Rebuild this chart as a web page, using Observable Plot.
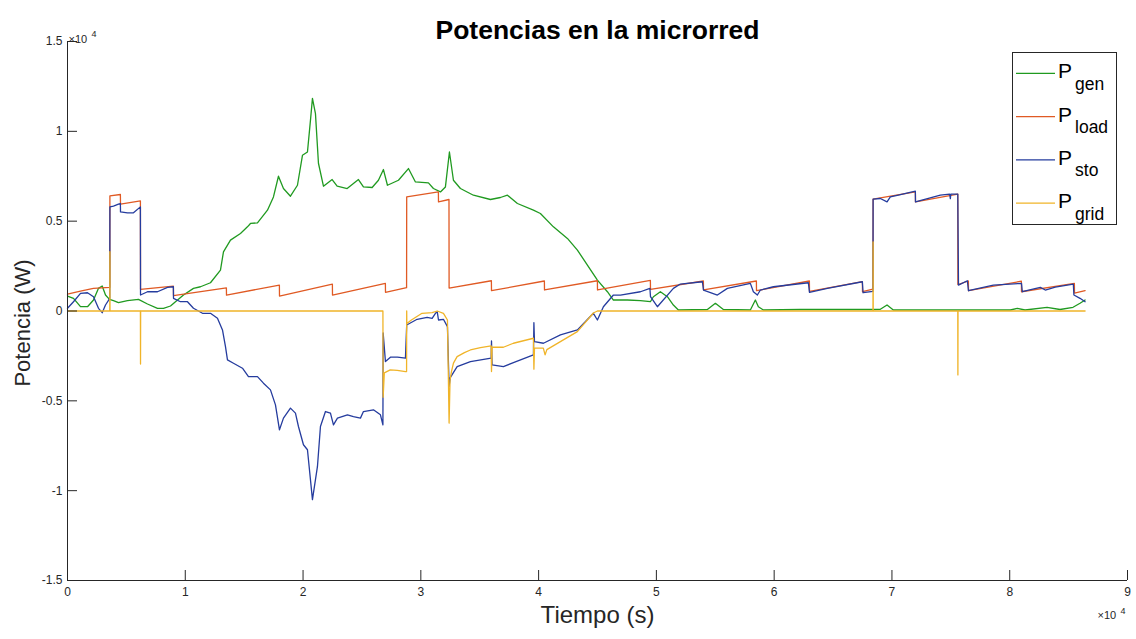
<!DOCTYPE html>
<html><head><meta charset="utf-8">
<script src="https://cdn.jsdelivr.net/npm/d3@7"></script>
<script src="https://cdn.jsdelivr.net/npm/@observablehq/plot@0.6"></script>
<style>
html,body{margin:0;padding:0;background:#fff;}
#wrap{position:relative;width:1136px;height:639px;overflow:hidden;}
#legend{position:absolute;left:0;top:0;pointer-events:none;}
</style></head><body><div id="wrap"></div>
<script>
const seriesNames = ["gen", "load", "sto", "grid"];
const seriesColors = ["#209a20", "#e05a24", "#253c9e", "#f0b429"];
const titleText = "Potencias en la microrred";
const xLabel = "Tiempo (s)";
const yLabel = "Potencia (W)";
const xTicks = [0, 10000, 20000, 30000, 40000, 50000, 60000, 70000, 80000, 90000];
const yTicks = [-15000, -10000, -5000, 0, 5000, 10000, 15000];

// [tiempo (s), potencia (W)]
const genData = [[0,833],[509,706],[1104,239],[1698,239],[2207,611],[2632,1261],[2946,1389],[3226,889],[3565,650],[3905,572],[4329,461],[5093,572],[6027,650],[6791,389],[7640,150],[8149,150],[8744,278],[9168,517],[9847,889],[10696,1261],[11290,1350],[12139,1572],[12988,2278],[13243,3295],[13837,3945],[14686,4317],[15280,4684],[15535,4873],[16129,4906],[16978,5612],[17487,6350],[17912,7500],[18336,6817],[18930,6389],[19524,7000],[19949,8667],[20374,8850],[20628,10612],[20798,11834],[21053,10984],[21307,8223],[21732,6945],[22470,7317],[22895,6945],[23744,6817],[24703,7317],[25127,6906],[25866,6873],[26401,7278],[26825,7873],[27165,7000],[28099,7278],[28948,7928],[29542,7184],[30646,7128],[31070,6817],[31664,6628],[32088,6906],[32428,8851],[32768,7278],[33362,6817],[34465,6445],[35908,6206],[36757,6317],[37352,6445],[38201,5984],[39559,5612],[40153,5428],[41257,4684],[42445,4039],[43294,3389],[44143,2556],[44992,1722],[45841,1072],[46350,611],[47538,611],[48642,583],[49491,517],[49745,794],[50339,1072],[50934,794],[51443,333],[51868,56],[54330,83],[55009,428],[55688,83],[57980,56],[58404,611],[58659,239],[59083,56],[62224,83],[68166,83],[69015,94],[69583,333],[70118,56],[80050,56],[80644,150],[81300,56],[83168,206],[84271,83],[85375,206],[85969,428],[86400,611]];

const loadData = [[0,944],[1100,1111],[2200,1261],[3590,1320],[3600,6406],[4490,6484],[4500,5945],[6190,6128],[6200,1206],[8990,1389],[9000,860],[13490,1290],[13500,880],[17990,1444],[18000,833],[22490,1500],[22500,889],[26990,1539],[27000,1039],[28790,1300],[28800,6350],[31490,6628],[31500,6073],[32390,6206],[32400,1278],[35990,1683],[36000,1130],[40490,1670],[40500,1170],[44990,1683],[45000,1170],[49490,1700],[49500,1200],[53990,1670],[54000,1170],[58490,1670],[58500,1130],[62990,1670],[63000,1090],[67490,1630],[67500,1072],[68390,1220],[68400,6222],[71990,6630],[72000,6073],[75590,6500],[75600,1470],[76490,1670],[76500,1128],[80990,1660],[81000,1072],[85490,1540],[85500,1000],[86400,1128]];

const stoData = [[0,150],[509,517],[1104,983],[1698,1017],[2207,794],[2632,150],[2946,-94],[3226,333],[3590,706],[3600,5795],[3905,5834],[4329,5945],[4490,5984],[4500,5517],[5093,5462],[5603,5462],[6190,5795],[6200,889],[6791,1072],[7640,1072],[8489,1317],[8990,1350],[9000,706],[9593,517],[10187,517],[10696,150],[11460,-128],[12139,-128],[12733,-406],[13158,-1056],[13413,-1983],[13582,-2722],[14092,-2906],[14856,-3184],[15365,-3650],[16129,-3650],[16638,-4017],[17233,-4389],[17657,-5223],[17997,-6612],[18336,-5962],[18930,-5406],[19355,-5684],[19609,-6428],[20034,-7445],[20374,-7723],[20798,-10500],[21223,-8651],[21477,-6428],[21902,-5595],[22326,-5684],[22581,-6334],[22920,-5962],[23769,-5778],[24278,-5873],[24873,-5962],[25127,-5595],[25976,-5500],[26571,-5778],[26780,-6334],[26800,-1220],[26995,-2817],[27419,-2572],[28014,-2572],[28693,-2628],[28800,-778],[29686,-461],[30535,-350],[30960,-406],[31240,-128],[31390,-39],[31500,-500],[31919,-461],[32258,-872],[32400,-4200],[32500,-3706],[33082,-3095],[34211,-2817],[35968,-2628],[36000,-1667],[36050,-3000],[37012,-3095],[37861,-2872],[39559,-2444],[39600,-650],[39650,-1706],[40408,-1795],[41851,-1333],[43294,-1056],[44652,-128],[44992,-500],[45501,239],[46350,889],[46944,889],[48642,1072],[49450,1261],[49500,794],[50085,239],[51443,1261],[52037,1500],[53905,1628],[54000,1167],[55178,889],[56027,1261],[57980,1539],[58235,1072],[58574,889],[58829,1167],[59932,1350],[62903,1572],[63000,1039],[64516,1261],[67487,1628],[67550,1017],[68390,1095],[68400,6222],[69015,6262],[69583,6073],[69864,6350],[70543,6445],[71987,6667],[72000,6073],[74109,6445],[74900,6500],[74958,6250],[75000,6500],[75590,6500],[75650,1444],[76400,1683],[76500,1128],[78609,1444],[81000,1539],[81070,1072],[82598,1317],[83022,1167],[83870,1333],[85400,1500],[85450,889],[85969,706],[86400,517]];

const gridData = [[0,0],[3590,0],[3600,3300],[3610,0],[6190,0],[6200,-2950],[6210,0],[26780,0],[26800,-4800],[26900,-3440],[27400,-3280],[28000,-3300],[28700,-3370],[28790,-3370],[28800,0],[28810,-690],[29200,-500],[30100,-128],[30960,-94],[31390,0],[31920,-128],[32260,-500],[32400,-6240],[32480,-3833],[32600,-3370],[32770,-2900],[33080,-2540],[33700,-2320],[34210,-2170],[35060,-2040],[35970,-1944],[36000,-3370],[36050,-2017],[37010,-2017],[37860,-1795],[39560,-1517],[39600,-3240],[39650,-2070],[40400,-2070],[40550,-2444],[40700,-2150],[41850,-1706],[43290,-1150],[44650,-111],[44990,0],[68390,0],[68400,3850],[68410,0],[75590,0],[75600,-3560],[75610,0],[86400,0]];

const seriesData = [genData, loadData, stoData, gridData];
const font = "'Liberation Sans', Arial, Helvetica, sans-serif";
const axisColor = "#262626";
const fmt = d => String(d / 1e4);

const W = 1136, H = 639, mL = 67, mR = 9, mT = 41, mB = 59;
const xDomain = [0, 90000], yDomain = [-15000, 15000];
const tickPx = 10;
// inward tick length converted to data units
const tickLenY = tickPx * (yDomain[1] - yDomain[0]) / (H - mT - mB);
const tickLenX = tickPx * (xDomain[1] - xDomain[0]) / (W - mL - mR);

const lineMarks = seriesData.map((arr, i) =>
  Plot.line(arr.map(([t, p]) => ({t, p})), {x: "t", y: "p", stroke: seriesColors[i], strokeWidth: 1.3})
);

const chart = Plot.plot({
  width: W, height: H,
  marginLeft: mL, marginRight: mR, marginTop: mT, marginBottom: mB,
  style: {fontFamily: font, background: "#fff", color: axisColor, overflow: "visible"},
  x: {domain: xDomain},
  y: {domain: yDomain},
  marks: [
    ...lineMarks,
    Plot.ruleX(xTicks, {y1: yDomain[0], y2: yDomain[0] + tickLenY, stroke: axisColor, strokeWidth: 1}),
    Plot.ruleY(yTicks, {x1: xDomain[0], x2: xDomain[0] + tickLenX, stroke: axisColor, strokeWidth: 1}),
    Plot.ruleX([0], {stroke: axisColor, strokeWidth: 1}),
    Plot.ruleY([-15000], {stroke: axisColor, strokeWidth: 1}),
    Plot.axisX({ticks: xTicks, tickFormat: fmt, tickSize: 0, tickPadding: 7, fontSize: 12, label: null}),
    Plot.axisY({ticks: yTicks, tickFormat: fmt, tickSize: 0, tickPadding: 5, fontSize: 12, label: null}),
    Plot.text([titleText], {frameAnchor: "top", dy: -21, fontSize: 26.5, fontWeight: "bold", fill: "#000"}),
    Plot.text([xLabel], {frameAnchor: "bottom", dy: 42, fontSize: 24, fill: axisColor}),
    Plot.text([yLabel], {frameAnchor: "left", textAnchor: "middle", dx: -45, dy: 12, rotate: -90, fontSize: 22, fill: axisColor}),
    Plot.text(["×10"], {frameAnchor: "top-left", textAnchor: "start", dx: 1, dy: -6, fontSize: 11, fill: axisColor}),
    Plot.text(["4"], {frameAnchor: "top-left", textAnchor: "start", dx: 24, dy: -11, fontSize: 9, fill: axisColor}),
    Plot.text(["×10"], {frameAnchor: "bottom-right", textAnchor: "start", dx: -30, dy: 38, fontSize: 11, fill: axisColor}),
    Plot.text(["4"], {frameAnchor: "bottom-right", textAnchor: "start", dx: -7, dy: 33, fontSize: 9, fill: axisColor})
  ]
});

const wrap = document.getElementById("wrap");
wrap.appendChild(chart);

const leg = d3.select(wrap).append("svg").attr("id", "legend")
  .attr("width", W).attr("height", H).style("font-family", font);
leg.append("rect").attr("x", 1012.5).attr("y", 52.5).attr("width", 104).attr("height", 172)
  .attr("fill", "#fff").attr("stroke", axisColor).attr("stroke-width", 1);
seriesNames.forEach((n, i) => {
  const y = 73.3 + i * 43.3;
  leg.append("line").attr("x1", 1016).attr("x2", 1055).attr("y1", y).attr("y2", y)
    .attr("stroke", seriesColors[i]).attr("stroke-width", 1.3);
  const t = leg.append("text").attr("x", 1058).attr("y", y + 5).attr("font-size", 21).attr("fill", "#000");
  t.append("tspan").text("P");
  t.append("tspan").attr("dx", 3).attr("dy", 11.5).attr("font-size", 17.5).text(n);
});
</script></body></html>
